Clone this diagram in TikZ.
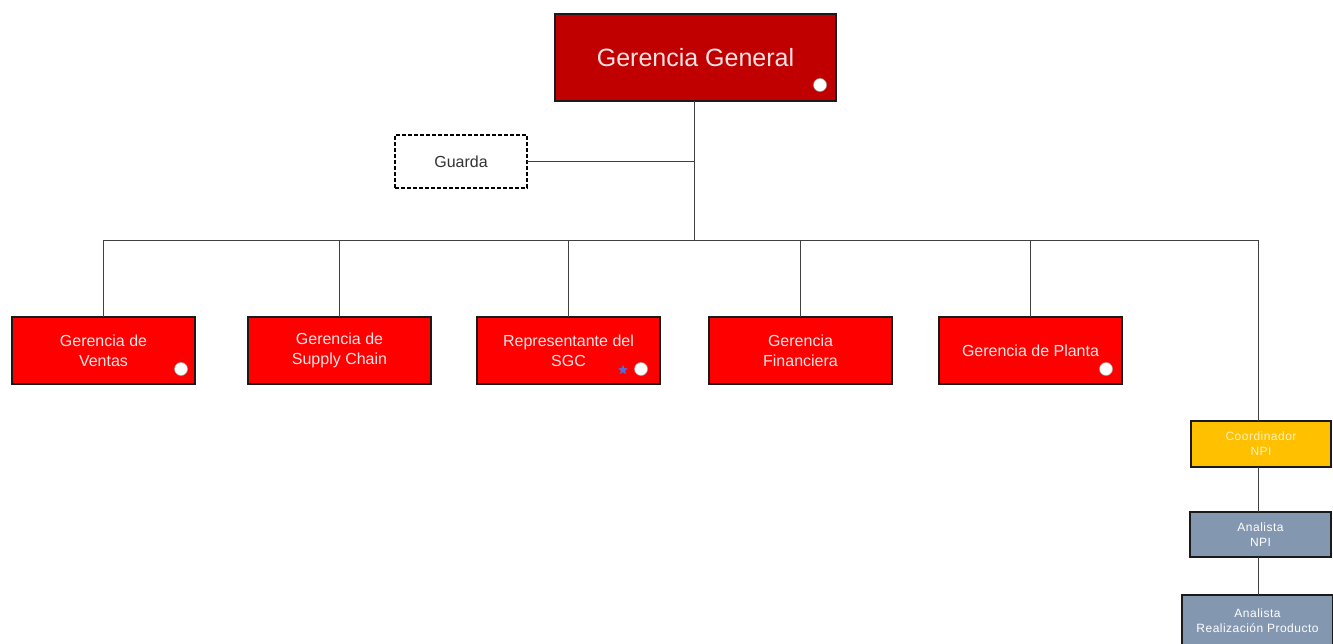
\documentclass[tikz,border=0pt]{standalone}
\usepackage{fontspec}
\setmainfont{Liberation Sans}
\usetikzlibrary{shapes.geometric}
\definecolor{topred}{HTML}{C00000}
\definecolor{mgrred}{HTML}{FF0000}
\definecolor{gold}{HTML}{FFC000}
\definecolor{slateblue}{HTML}{8497B0}
\definecolor{edgegray}{HTML}{1A1A1A}
\definecolor{paletext}{HTML}{FBE3E3}
\definecolor{goldtext}{HTML}{FFF2C0}
\definecolor{starblue}{HTML}{4F6FE0}
\tikzset{
  box/.style={draw=edgegray, line width=1.6pt, inner sep=0pt, outer sep=0pt, align=center, anchor=north west},
  topbox/.style={box, fill=topred, text=paletext, font=\fontsize{25}{28}\selectfont},
  mgrbox/.style={box, fill=mgrred, text=paletext, font=\fontsize{16}{20}\selectfont},
  goldbox/.style={box, fill=gold, text=goldtext, font=\fontsize{12}{15}\selectfont\addfontfeatures{LetterSpace=4}},
  greybox/.style={box, fill=slateblue, text=white, font=\fontsize{12}{15}\selectfont\addfontfeatures{LetterSpace=4}},
  guardbox/.style={draw=black, line width=1.6pt, dash pattern=on 4pt off 2pt, fill=white, outer sep=0pt, align=center, anchor=north west, font=\fontsize{16}{18}\selectfont, text=black!80},
  link/.style={draw=black!75, line width=0.9pt},
  dot/.style={circle, draw=black!35, fill=white, line width=0.5pt, minimum size=13pt, inner sep=0pt},
  flag/.style={star, star points=5, star point ratio=2.2, fill=starblue, minimum size=10pt, inner sep=0pt}
}
\begin{document}
\begin{tikzpicture}[x=1pt, y=-1pt]
\useasboundingbox (0,0) rectangle (1333,644);
\fill[white] (0,0) rectangle (1333,644);

% top management
\node[topbox, minimum width=281pt, minimum height=87pt] (gg) at (555,14) {Gerencia General};
\node[dot] (ggdot) at (820,85) {};

% staff position
\node[guardbox, minimum width=132pt, minimum height=53pt] (guarda) at (395,135) {Guarda};

% management row
\node[mgrbox, minimum width=183pt, minimum height=67pt] (ventas) at (12,317) {Gerencia de\\Ventas};
\node[mgrbox, minimum width=183pt, minimum height=67pt] (supply) at (248,317) {Gerencia de\\Supply Chain};
\node[mgrbox, minimum width=183pt, minimum height=67pt] (sgc) at (477,317) {Representante del\\SGC};
\node[mgrbox, minimum width=183pt, minimum height=67pt] (fin) at (709,317) {Gerencia\\Financiera};
\node[mgrbox, minimum width=183pt, minimum height=67pt] (planta) at (939,317) {Gerencia de Planta};

\node[dot] (vdot) at (181,369) {};
\node[dot] (sdot) at (641,369) {};
\node[flag] (sstar) at (623,370) {};
\node[dot] (pdot) at (1106,369) {};

% NPI branch
\node[goldbox, minimum width=140pt, minimum height=46pt] (coord) at (1191,421) {Coordinador\\NPI};
\node[greybox, minimum width=141pt, minimum height=45pt] (anpi) at (1190,512) {Analista\\NPI};
\node[greybox, minimum width=151pt, minimum height=52pt] (arp) at (1182,595) {Analista\\Realización Producto};

% connectors
\coordinate (bus) at (694,240);
\coordinate (busL) at (ventas.north |- bus);
\coordinate (busR) at (1258,240);
\draw[link] (bus |- gg.south) -- (bus);
\draw[link] (guarda.east) -- (guarda.east -| bus);
\draw[link] (busL) -- (busR);
\draw[link] (ventas.north) -- (busL);
\draw[link] (supply.north) -- (supply.north |- bus);
\draw[link] (sgc.north) -- (sgc.north |- bus);
\draw[link] (fin.north) -- (fin.north |- bus);
\draw[link] (planta.north) -- (planta.north |- bus);
\draw[link] (busR) -- (busR |- coord.north);
\draw[link] (busR |- coord.south) -- (busR |- anpi.north);
\draw[link] (busR |- anpi.south) -- (busR |- arp.north);
\end{tikzpicture}
\end{document}
